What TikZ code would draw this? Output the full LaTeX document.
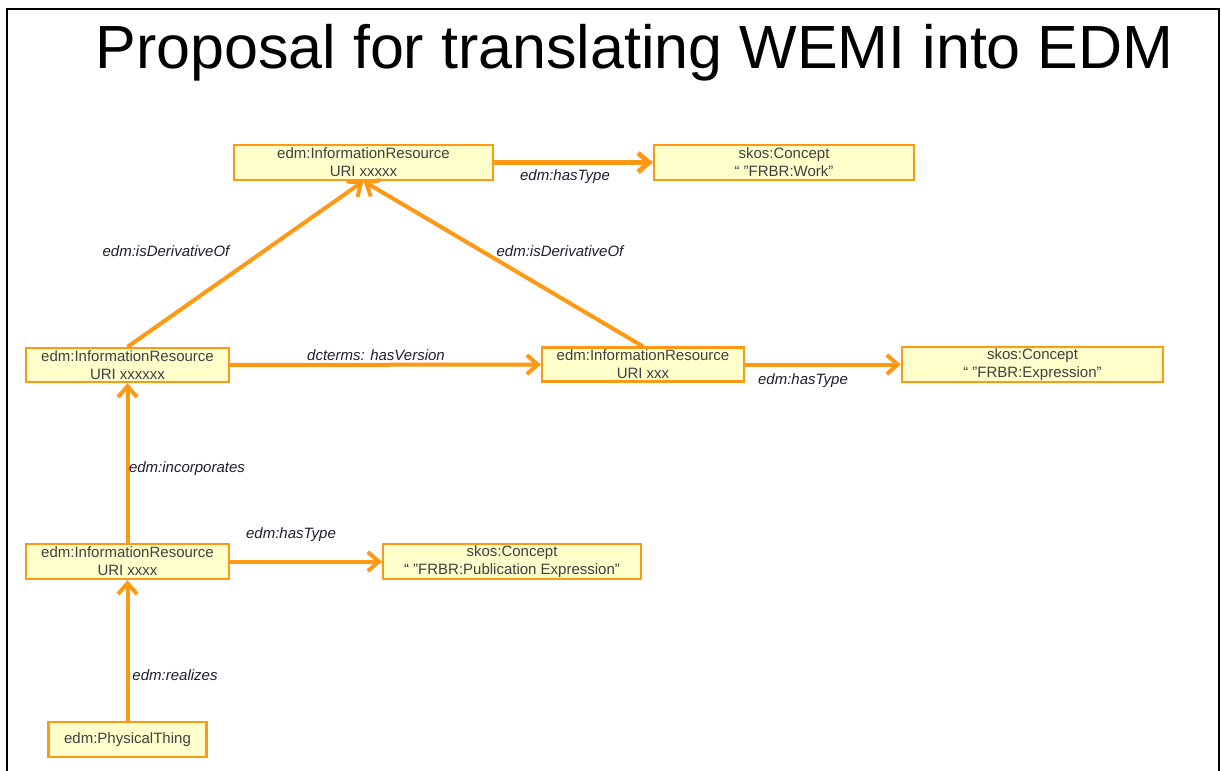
\documentclass[tikz,border=0pt]{standalone}
\usepackage{fontspec}
\setmainfont{Liberation Sans}
\usetikzlibrary{arrows.meta}
\definecolor{edgeorange}{RGB}{255,152,18}
\definecolor{boxfill}{RGB}{255,255,204}
\definecolor{boxtext}{RGB}{64,64,64}
\definecolor{lbltext}{RGB}{30,30,50}
\tikzset{
	res/.style={draw=edgeorange, line width=2.2pt, fill=boxfill, text=boxtext,
		align=center, inner sep=0pt, font=\fontsize{15}{18}\selectfont},
	rel/.style={draw=edgeorange, line width=4pt,
		-{Straight Barb[length=11pt,width=19pt]}},
	lbl/.style={text=lbltext, font=\fontsize{15}{18}\selectfont\itshape}
}
\begin{document}
\begin{tikzpicture}[x=1pt,y=-1pt]
	\useasboundingbox (0,0) rectangle (1221,771);
	\draw[line width=2pt] (7,771) -- (7,9) -- (1219,9) -- (1219,771);
	\node[anchor=base, font=\fontsize{61}{61}\selectfont] (title) at (634.5,68) {Proposal for translating WEMI into EDM};
	% resources
	\node[res, minimum width=259pt, minimum height=35pt] (ir1) at (363.5,162.5) {edm:InformationResource\\URI xxxxx};
	\node[res, minimum width=260pt, minimum height=35pt] (sk1) at (784,162.5) {skos:Concept\\“ "FRBR:Work"};
	\node[res, minimum width=203pt, minimum height=34pt] (ir2) at (127.5,365) {edm:InformationResource\\URI xxxxxx};
	\node[res, minimum width=202pt, minimum height=34pt] (ir3) at (643,364.5) {edm:InformationResource\\URI xxx};
	\node[res, minimum width=261pt, minimum height=35pt] (sk2) at (1032.5,364.5) {skos:Concept\\“ "FRBR:Expression"};
	\node[res, minimum width=203pt, minimum height=35pt] (ir4) at (127.5,561.5) {edm:InformationResource\\URI xxxx};
	\node[res, minimum width=258pt, minimum height=35pt] (sk3) at (512,561.5) {skos:Concept\\“ "FRBR:Publication Expression"};
	\node[res, minimum width=158pt, minimum height=35pt] (pt) at (127.5,739.5) {edm:PhysicalThing};
	% relations
	\draw[rel, line width=5pt] (ir1) -- (sk1);
	\draw[rel] (ir2.north) -- (ir1.south);
	\draw[rel] (ir3.north) -- (ir1.south);
	\draw[rel] (ir2) -- (ir3);
	\draw[rel] (ir3) -- (sk2);
	\draw[rel] (ir4) -- (ir2);
	\draw[rel] (ir4) -- (sk3);
	\draw[rel] (pt) -- (ir4);
	% labels
	\node[lbl] (l1) at (565,177) {edm:hasType};
	\node[lbl] (l2) at (166,251) {edm:isDerivativeOf};
	\node[lbl] (l3) at (560,251) {edm:isDerivativeOf};
	\node[lbl] (l4) at (376,355) {dcterms: hasVersion};
	\node[lbl] (l5) at (803,381) {edm:hasType};
	\node[lbl] (l6) at (187,469) {edm:incorporates};
	\node[lbl] (l7) at (291,535) {edm:hasType};
	\node[lbl] (l8) at (175,675) {edm:realizes};
\end{tikzpicture}
\end{document}
